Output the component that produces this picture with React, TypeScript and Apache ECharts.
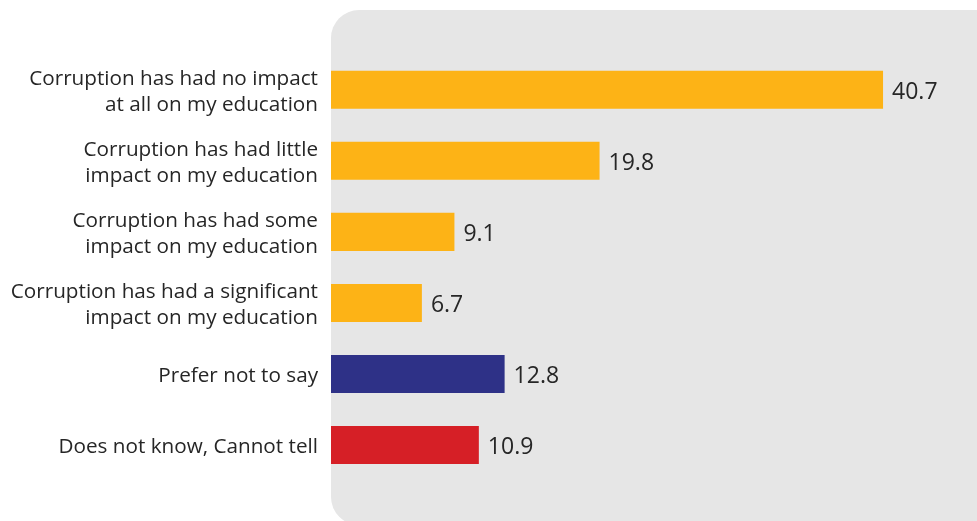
import React, { useEffect, useRef } from "react";
import * as echarts from "echarts";

const categories = [
  "Corruption has had no impact\nat all on my education",
  "Corruption has had little\nimpact on my education",
  "Corruption has had some\nimpact on my education",
  "Corruption has had a significant\nimpact on my education",
  "Prefer not to say",
  "Does not know, Cannot tell",
];
const values = [40.7, 19.8, 9.1, 6.7, 12.8, 10.9];
const colors = ["#FDB316", "#FDB316", "#FDB316", "#FDB316", "#2E3187", "#D61F26"];

export default function App() {
  const ref = useRef<HTMLDivElement>(null);
  useEffect(() => {
    if (!ref.current) return;
    const chart = echarts.init(ref.current, undefined, { renderer: "svg" });
    chart.setOption({
      animation: false,
      textStyle: { fontFamily: "Open Sans" },
      graphic: [
        {
          type: "rect",
          z: -10,
          shape: { x: 331, y: 10, width: 700, height: 515, r: 28 },
          style: { fill: "#E6E6E6" },
        },
      ],
      grid: { left: 331, top: 54.2, height: 426.4, right: 8.5, containLabel: false },
      xAxis: {
        type: "value",
        min: 0,
        max: 47,
        show: false,
      },
      yAxis: {
        type: "category",
        inverse: true,
        data: categories,
        axisLine: { show: false },
        axisTick: { show: false },
        axisLabel: {
          margin: 13,
          color: "#262626",
          fontSize: 20.7,
          lineHeight: 26,
          align: "right",
          fontFamily: "Open Sans",
        },
      },
      series: [
        {
          type: "bar",
          barCategoryGap: "46.5%",
          data: values.map((v, i) => ({ value: v, itemStyle: { color: colors[i] } })),
          label: {
            show: true,
            position: "right",
            distance: 9,
            color: "#262626",
            fontSize: 23,
            fontFamily: "Open Sans",
            formatter: (p: any) => p.value.toFixed(1),
          },
        },
      ],
    });
    return () => chart.dispose();
  }, []);
  return (
    <div
      ref={ref}
      style={{ position: "fixed", left: 0, top: 0, width: 977, height: 521 }}
    />
  );
}
